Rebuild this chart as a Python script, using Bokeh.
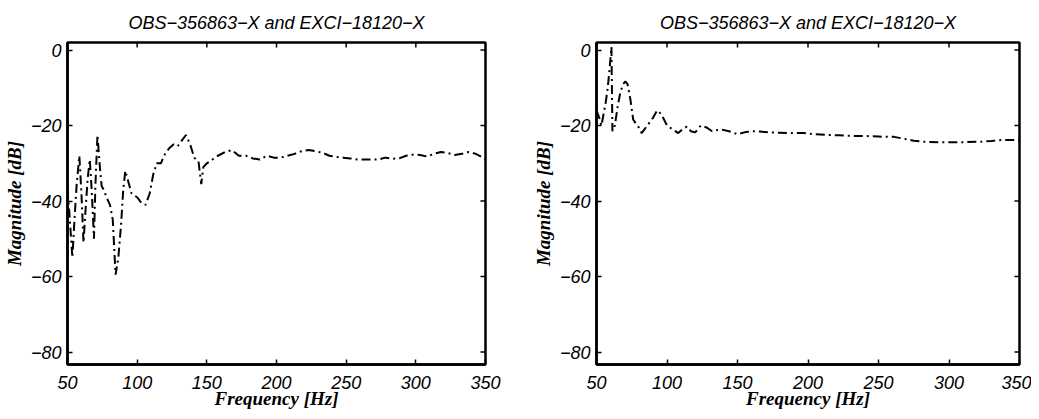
from bokeh.plotting import figure
from bokeh.models import Range1d, FixedTicker
from bokeh.layouts import row
from bokeh.embed import file_html
from bokeh.resources import INLINE

TITLE = "OBS\u2212356863\u2212X and EXCI\u221218120\u2212X"
X_LABEL = "Frequency [Hz]"
Y_LABEL = "Magnitude [dB]"
X_TICKS = [50, 100, 150, 200, 250, 300, 350]
Y_TICKS = [-80, -60, -40, -20, 0]
Y_TICK_LABELS = ["\u221280", "\u221260", "\u221240", "\u221220", "0"]
X_MIN, X_MAX = 50, 350
Y_MIN, Y_MAX = -83.3, 2.0

freq_left = [50, 51.5, 53.5, 55, 56.5, 58.5, 60, 61.5, 63, 64.5, 66, 67.5, 69, 70,
             71.5, 73, 74.5, 76, 78, 80.5, 82.5, 84.5, 86.5, 88.5, 90, 91.5, 93, 96,
             100, 103, 106, 109, 111.5, 114, 117, 120, 123, 126, 129, 132, 135, 138,
             141, 144, 146, 147.5, 150, 154, 158, 163, 168, 173, 178, 183, 188, 193,
             198, 203, 208, 213, 218, 223, 228, 233, 238, 243, 248, 253, 258, 263,
             268, 273, 278, 283, 288, 293, 298, 303, 308, 313, 318, 323, 328, 333,
             338, 343, 348, 350]
mag_left = [-37, -44, -55, -45, -36, -28, -38, -51, -42, -34, -29, -38, -50, -36,
            -22.5, -30, -36, -37, -39, -41, -45, -59.5, -55, -46, -37, -32, -34, -38,
            -39, -40.5, -41, -38, -33, -30, -30, -27.5, -26, -25, -25.5, -24, -22.5, -25,
            -28.5, -29.5, -35.5, -31, -30, -29, -28, -27, -26.5, -28, -28, -28.7, -29, -28,
            -28.5, -28.5, -28, -27.5, -26.8, -26.5, -26.8, -27.2, -28, -28.3, -28.5, -28.7, -29, -29,
            -29, -29, -28.5, -28.8, -28.7, -28, -27.7, -27.8, -28.2, -27.5, -27, -27.3, -27.8, -27.5,
            -27, -27.5, -28.5, -29]

freq_right = [50, 52, 53.5, 55, 56.5, 58, 59.5, 60.6, 61.3, 63, 65, 67, 69, 70.5,
              72, 74, 76, 78, 80, 82, 84, 86, 88, 90, 93, 96, 100, 104, 108, 111,
              114, 117, 120, 124, 128, 132, 138, 144, 150, 155, 160, 166, 172, 180,
              188, 197, 205, 214, 222, 228, 235, 242, 250, 256, 261, 268, 275, 282,
              292, 300, 310, 322, 330, 338, 345, 350]
mag_right = [-16, -18, -20, -17, -14, -10, -4, 0.8, -21.5, -20, -15, -11, -9, -8.3,
             -9, -13, -18.4, -19.5, -20.5, -22, -21, -20, -19, -18, -16, -17, -20, -21, -22, -21,
             -20.3, -21.5, -21.8, -20, -20.5, -21.5, -21, -21.5, -22.3, -21.8, -21.5, -21.6, -21.8, -21.9,
             -22, -22, -22.3, -22.5, -22.6, -22.7, -22.8, -22.8, -22.9, -23, -23, -23.5, -24, -24.3,
             -24.4, -24.4, -24.4, -24.3, -24.1, -23.8, -23.8, -24]

TICK_FONT = "Liberation Sans"
LABEL_FONT = "Liberation Serif"


def make_panel(freq, mag, frame_w, min_left, min_right):
    p = figure(frame_width=frame_w, frame_height=322, output_backend="svg", toolbar_location=None,
               x_range=Range1d(X_MIN, X_MAX), y_range=Range1d(Y_MIN, Y_MAX),
               min_border_left=min_left, min_border_right=min_right,
               min_border_top=42, min_border_bottom=39)
    p.title.text = TITLE
    p.title.align = "center"
    p.title.text_font = TICK_FONT
    p.title.text_font_style = "italic"
    p.title.text_font_size = "18px"
    p.title.text_color = "black"
    p.title.offset = 0
    p.title.standoff = 20
    p.grid.visible = False
    p.outline_line_color = "black"
    p.outline_line_width = 2.5
    p.background_fill_color = "white"
    p.border_fill_color = "white"

    for ax in p.xaxis:
        ax.ticker = FixedTicker(ticks=X_TICKS)
        ax.axis_label = X_LABEL
        ax.major_label_standoff = 11
        ax.axis_label_standoff = -4
    for ax in p.yaxis:
        ax.ticker = FixedTicker(ticks=Y_TICKS)
        ax.major_label_overrides = {t: s for t, s in zip(Y_TICKS, Y_TICK_LABELS)}
        ax.axis_label = Y_LABEL
        ax.major_label_standoff = 6
        ax.axis_label_standoff = 3
    for ax in list(p.xaxis) + list(p.yaxis):
        ax.major_tick_in = 5
        ax.major_tick_out = 0
        ax.minor_tick_in = 0
        ax.minor_tick_out = 0
        ax.major_tick_line_width = 1.5
        ax.axis_line_width = 2.5
        ax.major_label_text_font = TICK_FONT
        ax.major_label_text_font_style = "italic"
        ax.major_label_text_font_size = "18px"
        ax.major_label_text_color = "black"
        ax.axis_label_text_font = LABEL_FONT
        ax.axis_label_text_font_style = "bold italic"
        ax.axis_label_text_font_size = "19px"
        ax.axis_label_text_color = "black"

    # inward tick marks on the top and right frame edges (MATLAB box style)
    p.ray(x=X_TICKS, y=[Y_MAX] * len(X_TICKS), length=5, length_units="screen",
          angle=-90, angle_units="deg", line_color="black", line_width=1.5)
    p.ray(x=[X_MAX] * len(Y_TICKS), y=Y_TICKS, length=5, length_units="screen",
          angle=180, angle_units="deg", line_color="black", line_width=1.5)

    p.line(freq, mag, line_color="black", line_width=2, line_dash="9 4 2 4")
    return p


p1 = make_panel(freq_left, mag_left, 418, 65, 44)
p2 = make_panel(freq_right, mag_right, 423, 62, 12)
p = row(p1, p2)

open("out.html", "w").write(file_html(p, INLINE))
